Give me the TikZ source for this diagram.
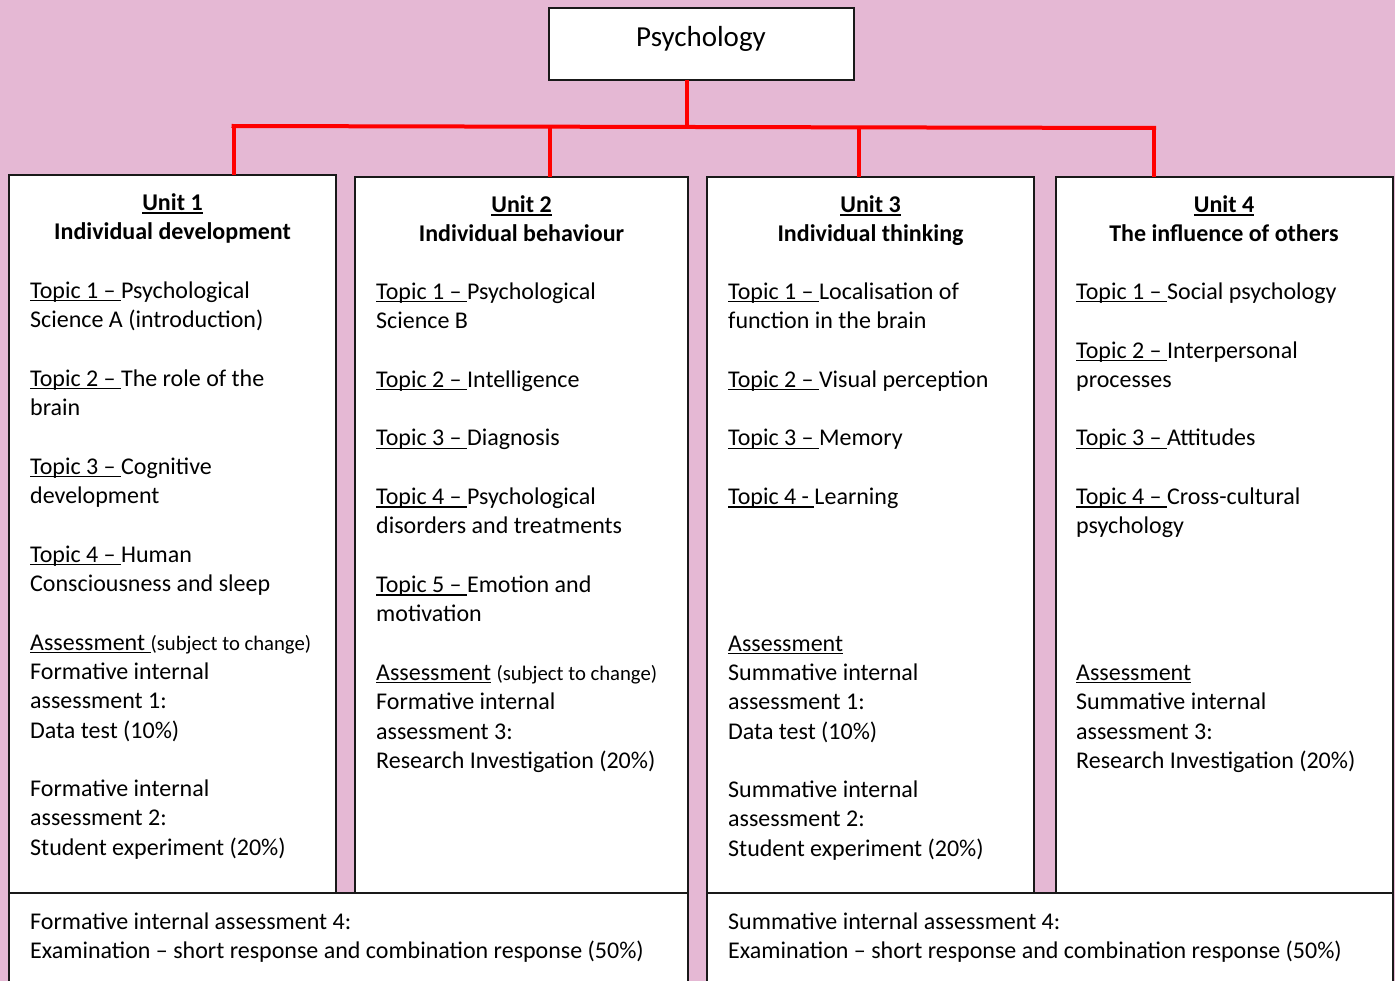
\documentclass[tikz,border=0pt]{standalone}
\usepackage{fontspec}
\setmainfont{Carlito}
\newsavebox\ulbox
\newcommand\myul[1]{\sbox\ulbox{#1}\rlap{\rule[-3pt]{\wd\ulbox}{1.5pt}}\usebox\ulbox}
\definecolor{bgpink}{RGB}{229,184,212}
\definecolor{linered}{RGB}{255,0,0}
\newcommand\putline[5]{\node[txt] (#1) at (#2,#3+29.3*#4) {#5};}
\tikzset{
  box/.style={draw=black!90, line width=2pt, fill=white, inner sep=0pt, outer sep=0pt, anchor=north west},
  txt/.style={anchor=base west, inner sep=0pt, font=\fontsize{24}{29.3}\selectfont},
  head/.style={anchor=base, inner sep=0pt, font=\fontsize{24}{29.3}\selectfont\bfseries},
  conn/.style={draw=linered, line width=4pt}
}
\newcommand\smalltxt[1]{{\fontsize{20.7}{25}\selectfont #1}}
\begin{document}
\begin{tikzpicture}[x=1pt,y=-1pt]
\useasboundingbox (0,0) rectangle (1395,981);
\fill[bgpink] (0,0) rectangle (1395,981);

% boxes
\node[box, minimum width=304.5pt, minimum height=72pt] (psy) at (549,8) {};
\node[anchor=base, inner sep=0pt, font=\fontsize{29}{34}\selectfont] (psyt) at (701,47) {Psychology};
\node[box, minimum width=327pt, minimum height=718pt] (u1) at (9,175) {};
\node[box, minimum width=333pt, minimum height=716pt] (u2) at (355,177) {};
\node[box, minimum width=327pt, minimum height=716pt] (u3) at (707,177) {};
\node[box, minimum width=337pt, minimum height=716pt] (u4) at (1055.5,177) {};
\node[box, minimum width=679pt, minimum height=100pt] (bl) at (9,893) {};
\node[box, minimum width=685.5pt, minimum height=100pt] (br) at (707,893) {};

% connectors
\coordinate (j0) at (686.5,126.6);
\coordinate (hl) at (233.5,126);
\coordinate (hr) at (1154,128);
\coordinate (c2) at (549.5,126.7);
\coordinate (c3) at (859,127.4);
\draw[conn] (j0 |- psy.south) -- (j0);
\draw[conn] ([xshift=-2pt]hl) -- ([xshift=2pt]hr);
\draw[conn] (hl) -- (hl |- u1.north);
\draw[conn] (c2) -- (c2 |- u2.north);
\draw[conn] (c3) -- (c3 |- u3.north);
\draw[conn] (hr) -- (hr |- u4.north);

% headers
\node[head] (h1a) at (172.5,211) {\myul{Unit 1}};
\node[head] (h1b) at (172.5,240) {Individual development};
\node[head] (h2a) at (521.5,213) {\myul{Unit 2}};
\node[head] (h2b) at (521.5,242) {Individual behaviour};
\node[head] (h3a) at (870.5,213) {\myul{Unit 3}};
\node[head] (h3b) at (870.5,242) {Individual thinking};
\node[head] (h4a) at (1224,213) {\myul{Unit 4}};
\node[head] (h4b) at (1224,242) {The influence of others};

% unit 1
\putline{a0}{30}{298.5}{0}{\myul{Topic 1 –\ }Psychological}
\putline{a1}{30}{298.5}{1}{Science A (introduction)}
\putline{a3}{30}{298.5}{3}{\myul{Topic 2 –\ }The role of the}
\putline{a4}{30}{298.5}{4}{brain}
\putline{a6}{30}{298.5}{6}{\myul{Topic 3 –\ }Cognitive}
\putline{a7}{30}{298.5}{7}{development}
\putline{a9}{30}{298.5}{9}{\myul{Topic 4 –\ }Human}
\putline{a10}{30}{298.5}{10}{Consciousness and sleep}
\putline{a12}{30}{298.5}{12}{\myul{Assessment\ }\smalltxt{(subject to change)}}
\putline{a13}{30}{298.5}{13}{Formative internal}
\putline{a14}{30}{298.5}{14}{assessment 1:}
\putline{a15}{30}{298.5}{15}{Data test (10\%)}
\putline{a17}{30}{298.5}{17}{Formative internal}
\putline{a18}{30}{298.5}{18}{assessment 2:}
\putline{a19}{30}{298.5}{19}{Student experiment (20\%)}

% unit 2
\putline{b0}{376}{299.5}{0}{\myul{Topic 1 –\ }Psychological}
\putline{b1}{376}{299.5}{1}{Science B}
\putline{b3}{376}{299.5}{3}{\myul{Topic 2 –\ }Intelligence}
\putline{b5}{376}{299.5}{5}{\myul{Topic 3 –\ }Diagnosis}
\putline{b7}{376}{299.5}{7}{\myul{Topic 4 –\ }Psychological}
\putline{b8}{376}{299.5}{8}{disorders and treatments}
\putline{b10}{376}{299.5}{10}{\myul{Topic 5 –\ }Emotion and}
\putline{b11}{376}{299.5}{11}{motivation}
\putline{b13}{376}{299.5}{13}{\myul{Assessment}\ \smalltxt{(subject to change)}}
\putline{b14}{376}{299.5}{14}{Formative internal}
\putline{b15}{376}{299.5}{15}{assessment 3:}
\putline{b16}{376}{299.5}{16}{Research Investigation (20\%)}

% unit 3
\putline{c0}{728}{299.5}{0}{\myul{Topic 1 –\ }Localisation of}
\putline{c1}{728}{299.5}{1}{function in the brain}
\putline{c3}{728}{299.5}{3}{\myul{Topic 2 –\ }Visual perception}
\putline{c5}{728}{299.5}{5}{\myul{Topic 3 –\ }Memory}
\putline{c7}{728}{299.5}{7}{\myul{Topic 4 -\ }Learning}
\putline{c12}{728}{299.5}{12}{\myul{Assessment}}
\putline{c13}{728}{299.5}{13}{Summative internal}
\putline{c14}{728}{299.5}{14}{assessment 1:}
\putline{c15}{728}{299.5}{15}{Data test (10\%)}
\putline{c17}{728}{299.5}{17}{Summative internal}
\putline{c18}{728}{299.5}{18}{assessment 2:}
\putline{c19}{728}{299.5}{19}{Student experiment (20\%)}

% unit 4
\putline{d0}{1076}{299.5}{0}{\myul{Topic 1 –\ }Social psychology}
\putline{d2}{1076}{299.5}{2}{\myul{Topic 2 –\ }Interpersonal}
\putline{d3}{1076}{299.5}{3}{processes}
\putline{d5}{1076}{299.5}{5}{\myul{Topic 3 –\ }Attitudes}
\putline{d7}{1076}{299.5}{7}{\myul{Topic 4 –\ }Cross-cultural}
\putline{d8}{1076}{299.5}{8}{psychology}
\putline{d13}{1076}{299.5}{13}{\myul{Assessment}}
\putline{d14}{1076}{299.5}{14}{Summative internal}
\putline{d15}{1076}{299.5}{15}{assessment 3:}
\putline{d16}{1076}{299.5}{16}{Research Investigation (20\%)}

% bottom
\putline{e0}{30}{929}{0}{Formative internal assessment 4:}
\putline{e1}{30}{929}{1}{Examination – short response and combination response (50\%)}
\putline{f0}{728}{929}{0}{Summative internal assessment 4:}
\putline{f1}{728}{929}{1}{Examination – short response and combination response (50\%)}
\end{tikzpicture}
\end{document}
